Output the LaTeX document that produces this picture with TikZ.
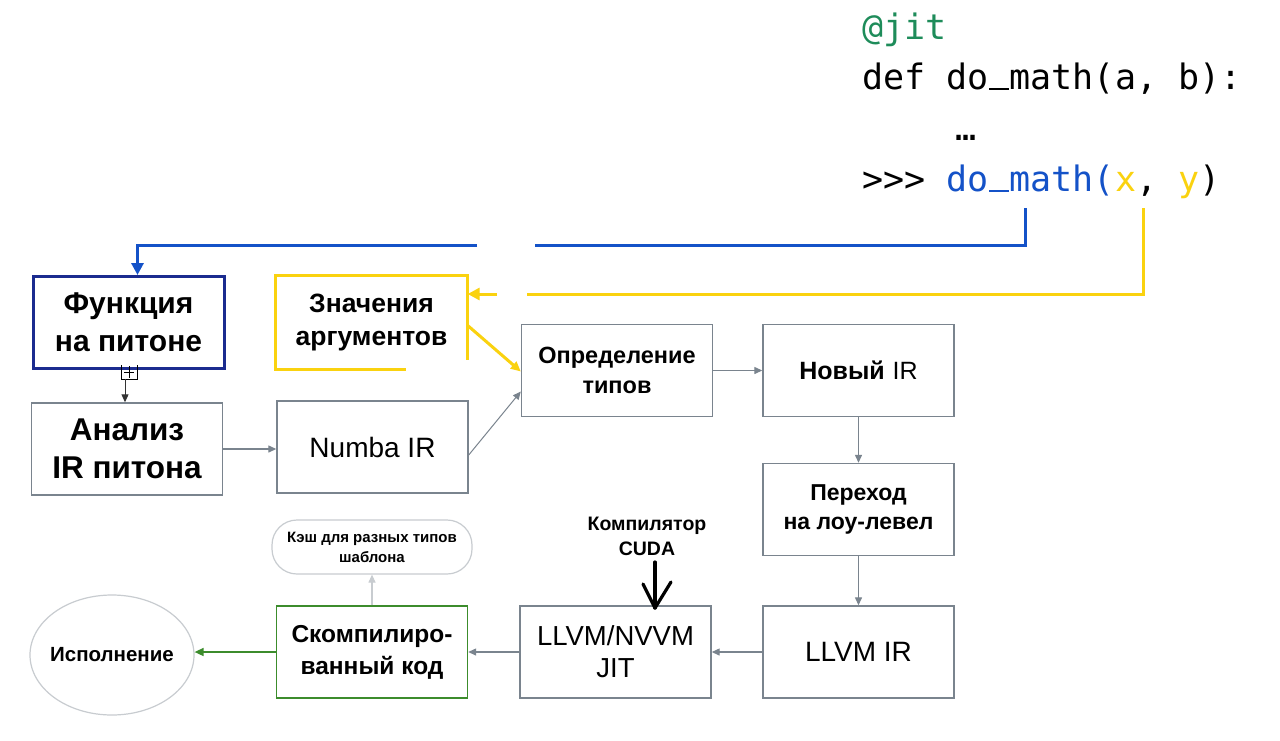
\documentclass[tikz,border=0pt]{standalone}
\usepackage{fontspec}
\setmainfont{Liberation Sans}
\newfontfamily\codefont{DejaVu Sans Mono}
\usetikzlibrary{arrows.meta,shapes.geometric}
\definecolor{navy}{HTML}{1B2B8F}
\definecolor{codeblue}{HTML}{1452C8}
\definecolor{ylw}{HTML}{FAD20F}
\definecolor{gry}{HTML}{7A848E}
\definecolor{grn}{HTML}{3C8C2C}
\definecolor{codegreen}{HTML}{1E8C5A}
\definecolor{lgry}{HTML}{C8CCD0}
\newcommand\myus{\makebox[0.602em][c]{\rule[-0.04em]{0.56em}{0.075em}}}
\tikzset{
  box/.style={draw=gry, line width=1.4pt, minimum width=191pt, minimum height=92pt, align=center, inner sep=2pt},
  garr/.style={draw=gry, line width=1.3pt, -{Triangle[length=8pt,width=7pt]}},
  codetxt/.style={anchor=base west, inner sep=0pt, font=\codefont\fontsize{35}{40}\selectfont},
}
\begin{document}
\begin{tikzpicture}[x=1pt,y=-1pt]
\useasboundingbox (0,0) rectangle (1280,740);
\fill[white] (0,0) rectangle (1280,740);
% code
\node[codetxt, text=codegreen] (jit) at (862,39) {@jit};
\node[codetxt] (def) at (862,89) {def do\myus math(a, b):};
\node[codetxt] (dots) at (955,140) {…};
\node[codetxt] (call) at (862,191) {>>> \textcolor{codeblue}{do\myus math(}\textcolor{ylw}{x}, \textcolor{ylw}{y})};
% boxes
\node[box, draw=navy, line width=3pt, font=\fontsize{30}{38}\selectfont\bfseries] (fn) at (128.5,322.5) {Функция\\на питоне};
\node[box, draw=none, font=\fontsize{26.5}{33}\selectfont\bfseries] (args) at (371.5,322.5) {Значения\\аргументов};
\draw[ylw, line width=3pt] ([xshift=-62pt]args.south east) -- (args.south west) -- (args.north west) -- (args.north east) -- ([yshift=9pt]args.south east);
\node[box, font=\fontsize{31.5}{38}\selectfont\bfseries] (an) at (127,449) {Анализ\\IR питона};
\node[box, font=\fontsize{28}{32}\selectfont] (numba) at (372.5,447) {Numba IR};
\node[box, font=\fontsize{23.5}{30}\selectfont\bfseries] (types) at (617,370.5) {Определение\\типов};
\node[box, font=\fontsize{25}{30}\selectfont] (newir) at (858.5,370.5) {\textbf{Новый}\hspace{8pt}IR};
\node[box, font=\fontsize{23}{29}\selectfont\bfseries] (low) at (858.5,509.5) {Переход\\на лоу-левел};
\node[box, font=\fontsize{28}{32}\selectfont] (llvmir) at (858.5,652) {LLVM IR};
\node[box, font=\fontsize{27.5}{32}\selectfont] (jitbox) at (615.5,652) {LLVM/NVVM\\JIT};
\node[box, draw=grn, font=\fontsize{24.5}{32}\selectfont\bfseries] (comp) at (372,652) {Скомпилиро-\\ванный код};
\node[ellipse, draw=lgry, line width=1.2pt, inner xsep=-30pt, inner ysep=0pt, minimum width=164pt, minimum height=120pt, font=\fontsize{20.5}{24}\selectfont\bfseries] (exec) at (112,655) {Исполнение};
\node[draw=lgry, line width=1.2pt, rounded corners=25pt, minimum width=200pt, minimum height=54pt, align=center, font=\fontsize{15}{20}\selectfont\bfseries] (cache) at (372,547) {Кэш для разных типов\\шаблона};
\node[align=center, font=\fontsize{19.5}{25}\selectfont\bfseries, inner sep=0pt] (cuda) at (647,536) {Компилятор\\CUDA};
% blue connector
\coordinate (bstart) at (1025,208);
\coordinate (bgap1) at (535,245);
\coordinate (bgap2) at (477,245);
\draw[codeblue, line width=3pt] (bstart) |- (bgap1);
\draw[codeblue, line width=3pt, -{Triangle[length=12pt,width=12pt]}] (bgap2) -| ([xshift=9pt]fn.north);
% yellow connector
\coordinate (ystart) at (1143,208);
\coordinate (ygap1) at (527,294);
\coordinate (ygap2) at (497,294);
\draw[ylw, line width=3pt] (ystart) |- (ygap1);
\draw[ylw, line width=3pt, -{Triangle[length=12pt,width=12pt]}] (ygap2) -- (args.east |- ygap2);
\draw[ylw, line width=3pt, -{Triangle[length=10pt,width=9pt]}] ([yshift=-3pt]args.east) -- ([yshift=-1pt]types.west);
% small icon under fn
\draw[black, line width=0.8pt] (121,365) -- (121,379) -- (137,379) -- (137,365);
\draw[black, line width=0.8pt] (124,372) -- (134,372) (129,366) -- (129,378);
% gray arrows
\draw[draw=black!80, line width=1pt, -{Triangle[length=8pt,width=7pt]}] (125,379) -- (an.north -| 125,0);
\draw[garr] (an.east) -- (an.east -| numba.west);
\draw[garr, line width=1pt] ([yshift=-8pt]numba.east) -- ([yshift=-21pt]types.west);
\draw[garr] (types.east) -- (newir.west);
\draw[garr] (newir.south) -- (low.north);
\draw[garr] (low.south) -- (llvmir.north);
\draw[garr] (llvmir.west) -- (jitbox.east);
\draw[garr] (jitbox.west) -- (comp.east);
\draw[draw=grn, line width=1.5pt, -{Triangle[length=9pt,width=8pt]}] (comp.west) -- (comp.west -| exec.east);
\draw[draw=lgry, line width=1.2pt, -{Triangle[length=8pt,width=7pt]}] (comp.north) -- (cache.south);
% hand-drawn CUDA arrow
\coordinate (ctip) at (655,608);
\draw[black, line width=3.2pt, line cap=round] (655,562) -- (ctip);
\draw[black, line width=3.2pt, line cap=round, line join=round] (643,584) -- (ctip) -- (671,582);
\end{tikzpicture}
\end{document}
